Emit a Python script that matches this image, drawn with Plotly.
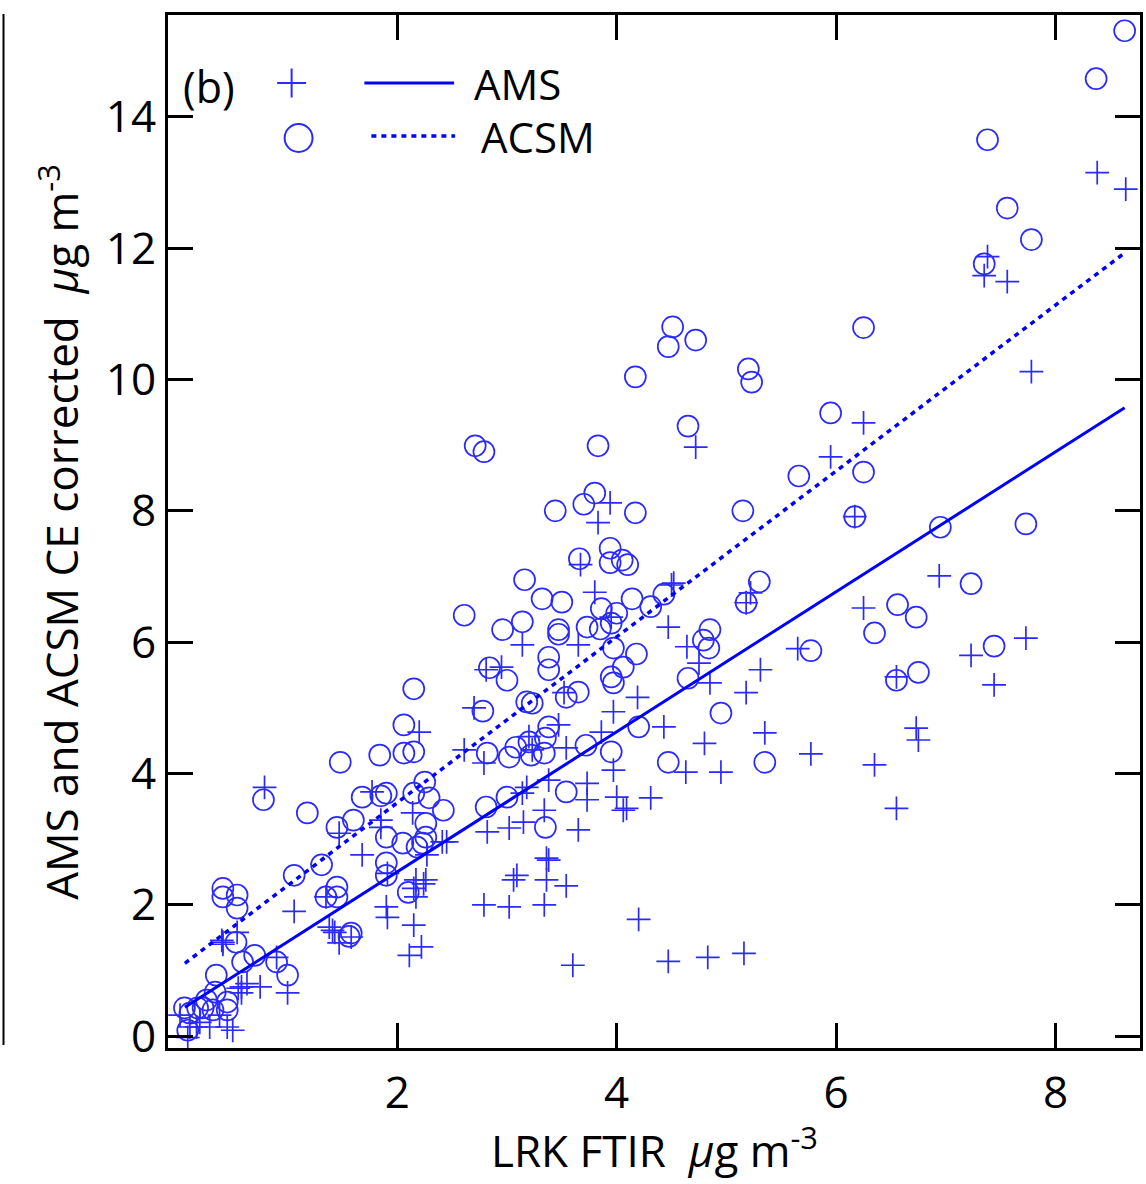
import plotly.graph_objects as go

# ---------------- data ----------------
acsm_x = [8.63, 8.37, 7.38, 7.56, 7.78, 7.35, 6.25, 4.51, 4.47, 4.72, 4.17, 5.20, 5.23,
          5.95, 4.65, 2.71, 2.79, 3.83, 5.66, 6.25, 6.17, 5.15, 6.95, 7.73, 7.23, 7.44, 6.75,
          6.56, 6.73, 6.35, 6.55, 5.77, 5.30, 5.18, 4.85, 4.79, 4.84, 4.65, 4.95, 5.35, 4.47,
          3.80, 3.70, 3.44, 4.17, 3.94, 3.94, 4.05, 4.10, 3.66,
          3.16, 3.32, 3.50, 4.14, 4.43, 2.61, 2.96, 3.14, 3.47, 3.47,
          3.73, 3.85, 3.86, 4.00, 4.31, 3.95, 3.38, 3.38, 2.84, 3.00,
          3.65, 3.54, 3.18, 3.23, 2.78, 3.95, 3.97, 4.06, 3.97, 4.18,
          2.15, 2.06, 2.06, 2.15, 1.84, 2.82, 3.02, 3.08, 3.20, 3.35,
          3.34, 3.22, 3.38, 3.72, 3.95, 4.20,
          2.25, 2.15, 2.29, 2.42, 1.90, 2.81, 3.00, 3.54, 3.35,
          1.90, 2.05, 2.23, 2.18, 1.90, 2.26, 2.26, 2.10, 1.90,
          0.78, 1.18, 1.45, 1.60, 1.68, 1.85, 1.31, 1.06, 1.45, 1.35, 1.45, 1.58, 1.56, 1.48,
          0.41, 0.54, 0.41, 0.54, 0.53, 0.59, 0.70, 0.90, 1.00,
          0.35, 0.34, 0.26, 0.45, 0.32, 0.45, 0.06, 0.11, 0.09, 0.23, 0.18]
acsm_y = [15.31, 14.58, 13.65, 12.61, 12.13, 11.76, 10.79, 10.80, 10.50, 10.60, 10.04, 10.16, 9.96,
          9.49, 9.29, 8.99, 8.90, 8.99, 8.53, 8.59, 7.91, 8.00, 7.75, 7.80, 6.89, 5.94, 5.54,
          6.57, 6.38, 6.14, 5.42, 5.87, 6.92, 6.60, 6.19, 6.03, 5.91, 5.45, 4.92, 4.17, 4.17,
          8.27, 8.10, 8.00, 7.97, 7.43, 7.21, 7.25, 7.18, 7.27,
          6.95, 6.66, 6.61, 6.66, 6.73, 6.41, 6.19, 6.31, 6.19, 6.12,
          6.23, 6.20, 6.51, 6.44, 6.54, 6.29, 5.77, 5.58, 5.61, 5.42,
          5.24, 5.16, 5.09, 5.07, 4.95, 5.47, 5.38, 5.62, 5.91, 5.82,
          5.29, 4.74, 4.31, 4.33, 4.28, 4.31, 4.25, 4.40, 4.48, 4.54,
          4.31, 4.28, 4.71, 4.43, 4.33, 4.71,
          3.87, 3.70, 3.63, 3.44, 3.70, 3.49, 3.64, 3.72, 3.18,
          3.03, 2.94, 2.94, 2.88, 2.64, 3.03, 3.24, 2.19, 2.45,
          3.60, 3.40, 3.18, 3.29, 3.64, 3.66, 2.61, 2.45, 2.27, 2.12, 2.12, 1.57, 1.52, 4.17,
          2.25, 2.15, 2.12, 1.95, 1.43, 1.13, 1.23, 1.13, 0.93,
          0.93, 0.67, 0.55, 0.52, 0.40, 0.40, 0.43, 0.35, 0.09, 0.43, 0.43]

ams_x = [8.38, 8.64, 7.38, 7.35, 7.56, 7.78, 6.94, 7.73, 7.23, 7.44,
         6.73, 6.75, 6.35, 6.55, 5.77, 5.35, 4.80, 4.95, 4.63,
         5.18, 5.31, 4.85, 4.75, 6.25, 6.55, 5.65, 5.22, 5.18,
         4.72, 5.95, 6.25, 6.17, 4.83, 4.47, 5.16, 3.60, 4.20,
         4.43, 4.47, 4.52, 4.64, 4.19, 3.97, 3.86, 3.47, 3.52,
         3.65, 3.14, 2.95, 2.81, 2.70, 2.20, 2.61, 2.79, 3.20,
         3.23, 3.54, 3.94, 3.83, 3.67, 3.80, 4.50, 3.95,
         3.18, 3.14, 3.38, 3.34, 3.15, 3.02, 2.82, 2.45, 2.14,
         3.38, 3.09, 2.27, 1.85, 4.31, 4.00, 4.06, 4.09, 3.73, 3.73, 3.97,
         3.54, 3.36, 3.06, 3.34, 2.79, 3.02, 3.36, 3.65,
         0.79, 1.77, 1.47, 1.06, 1.68, 1.85, 1.91, 1.90, 1.91,
         2.15, 2.17, 2.26, 2.17, 2.24, 2.15, 2.11, 2.22, 2.41,
         1.58, 1.38, 1.47, 1.43, 0.40, 0.54, 0.41, 0.90,
         0.58, 0.63, 0.75, 1.00, 0.55, 0.58,
         0.50, 0.29, 0.38, 0.20, 0.09, 0.02, 0.17, 0.45, 0.11,
         1.41, 1.35, 0.41]
ams_y = [13.15, 12.90, 11.87, 11.58, 11.49, 10.12, 7.01, 6.06, 5.80, 5.35,
         4.69, 4.51, 4.13, 3.47, 4.30, 4.62, 4.46, 4.02, 4.02,
         5.23, 5.58, 5.38, 5.68, 6.52, 5.47, 5.90, 6.75, 6.60,
         8.97, 8.82, 9.34, 7.91, 1.20, 1.14, 1.26, 1.08, 1.78,
         4.71, 6.23, 6.90, 5.93, 5.16, 4.94, 4.63, 4.74, 5.23,
         5.96, 5.96, 5.62, 5.58, 5.00, 4.63, 4.36, 4.16, 4.56,
         4.36, 4.39, 8.12, 7.82, 7.18, 6.76, 6.87, 6.38,
         3.79, 3.70, 3.90, 3.44, 3.26, 3.17, 3.11, 2.96, 3.40,
         2.68, 2.45, 2.76, 3.29, 3.63, 3.64, 3.44, 3.47, 3.85, 3.60, 4.05,
         2.29, 2.38, 2.38, 2.00, 2.00, 1.97, 2.71, 3.14,
         3.79, 3.72, 3.09, 1.90, 2.76, 3.18, 2.48, 1.97, 1.81,
         2.25, 2.38, 2.38, 2.12, 2.32, 1.69, 1.23, 1.36, 2.96,
         1.51, 1.66, 1.42, 1.58, 1.46, 1.58, 1.40, 1.20,
         0.75, 0.80, 0.75, 0.66, 0.73, 0.66,
         0.09, 0.14, 0.32, 0.21, -0.02, 0.32, 0.14, 0.14, 0.14,
         1.61, 2.12, 1.43]

# fitted regression lines (end points)
ams_fit_x = [0.064, 8.63]
ams_fit_y = [0.44, 9.57]
acsm_fit_x = [0.064, 8.64]
acsm_fit_y = [1.11, 11.94]

x_ticks = [2, 4, 6, 8]
y_ticks = [0, 2, 4, 6, 8, 10, 12, 14]

BLUE = "#0000ff"
MBLUE = "#2a2aff"
FONT = "Open Sans"

fig = go.Figure()
fig.add_trace(go.Scatter(x=acsm_x, y=acsm_y, mode="markers", name="ACSM",
                         marker=dict(symbol="circle-open", size=21, color=MBLUE,
                                     line=dict(width=1.7, color=MBLUE))))
fig.add_trace(go.Scatter(x=ams_x, y=ams_y, mode="markers", name="AMS",
                         marker=dict(symbol="cross-thin-open", size=17, color=MBLUE,
                                     line=dict(width=1.7, color=MBLUE))))
fig.add_trace(go.Scatter(x=ams_fit_x, y=ams_fit_y, mode="lines",
                         line=dict(color=BLUE, width=3)))
fig.add_trace(go.Scatter(x=acsm_fit_x, y=acsm_fit_y, mode="lines",
                         line=dict(color=BLUE, width=3.5, dash="5px,5px")))

axis_common = dict(showline=True, linewidth=3, linecolor="black", mirror="ticks",
                   ticks="inside", ticklen=25, tickwidth=3, tickcolor="black",
                   showgrid=False, zeroline=False,
                   tickfont=dict(family=FONT, size=44, color="black"))
fig.update_xaxes(range=[-0.09, 8.77], tickvals=x_ticks, ticklabelstandoff=4, **axis_common)
fig.update_yaxes(range=[-0.18, 15.55], tickvals=y_ticks, ticklabelstandoff=0, **axis_common)

W, H = 1146, 1184
L, R, T, B = 168, 3, 15, 136
PW, PH = W - L - R, H - T - B


def px(x):
    return (x - L) / PW


def py(y):
    return (H - B - y) / PH


shapes = []
# legend: cross
cx, cy, a = 292, 83, 14.5
shapes.append(dict(type="line", xref="paper", yref="paper", x0=px(cx - a), x1=px(cx + a),
                   y0=py(cy), y1=py(cy), line=dict(color=MBLUE, width=2)))
shapes.append(dict(type="line", xref="paper", yref="paper", x0=px(cx), x1=px(cx),
                   y0=py(cy - a), y1=py(cy + a), line=dict(color=MBLUE, width=2)))
# legend: circle
ox, oy, r = 299, 138, 14
shapes.append(dict(type="circle", xref="paper", yref="paper", x0=px(ox - r), x1=px(ox + r),
                   y0=py(oy + r), y1=py(oy - r), line=dict(color=MBLUE, width=2)))
# legend: lines
shapes.append(dict(type="line", xref="paper", yref="paper", x0=px(365), x1=px(455),
                   y0=py(83), y1=py(83), line=dict(color=BLUE, width=3)))
shapes.append(dict(type="line", xref="paper", yref="paper", x0=px(372), x1=px(456),
                   y0=py(136), y1=py(136), line=dict(color=BLUE, width=3.5, dash="5px,5px")))
# cropped neighbour panel edge at far left
shapes.append(dict(type="line", xref="paper", yref="paper", x0=px(3), x1=px(3),
                   y0=py(14), y1=py(1045), line=dict(color="black", width=2)))

annotations = [
    dict(text="(b)", xref="paper", yref="paper", x=px(209), y=py(86), showarrow=False,
         xanchor="center", yanchor="middle", font=dict(family=FONT, size=43, color="black")),
    dict(text="AMS", xref="paper", yref="paper", x=px(473), y=py(83), showarrow=False,
         xanchor="left", yanchor="middle", font=dict(family=FONT, size=42, color="black")),
    dict(text="ACSM", xref="paper", yref="paper", x=px(480), y=py(136), showarrow=False,
         xanchor="left", yanchor="middle", font=dict(family=FONT, size=42, color="black")),
    dict(text="LRK FTIR  <i>μ</i>g m<sup>-3</sup>", xref="paper", yref="paper",
         x=0.5, y=py(1148), showarrow=False, xanchor="center", yanchor="middle",
         font=dict(family=FONT, size=44, color="black")),
    dict(text="AMS and ACSM CE corrected  <i>μ</i>g m<sup>-3</sup>", xref="paper", yref="paper",
         x=px(58), y=0.5, showarrow=False, xanchor="center", yanchor="middle", textangle=-90,
         font=dict(family=FONT, size=44, color="black")),
]

fig.update_layout(width=W, height=H, margin=dict(l=L, r=R, t=T, b=B),
                  paper_bgcolor="white", plot_bgcolor="white", showlegend=False,
                  hovermode=False, shapes=shapes, annotations=annotations)

fig.write_html("out.html", config={"displayModeBar": False, "staticPlot": True},
               post_script="document.body.style.margin='0px';document.body.style.padding='0px';")
